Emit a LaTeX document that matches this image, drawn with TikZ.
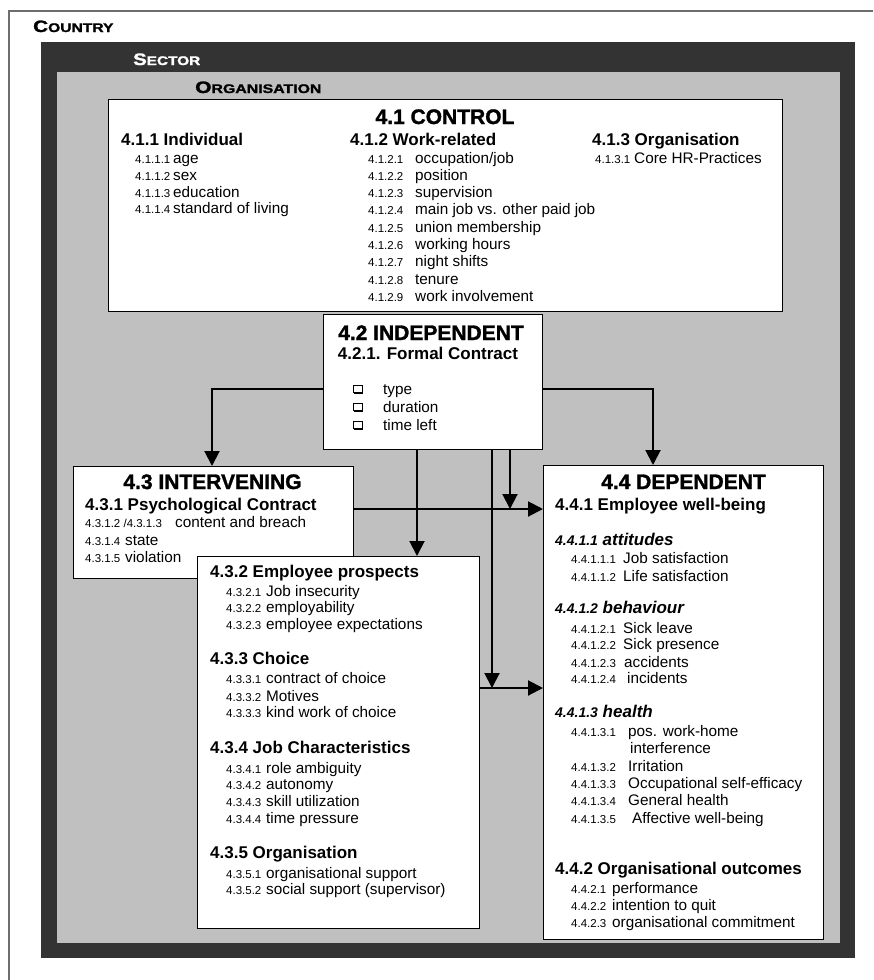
\documentclass[tikz,border=0pt]{standalone}
\usepackage{fontspec}
\setmainfont{Liberation Sans}
\newfontfamily\heavyfont{Liberation Sans}[UprightFont={* Bold},FakeBold=1.4]
\usepackage{graphicx}
\usetikzlibrary{arrows.meta,shadows}
\definecolor{darkfill}{HTML}{333333}
\definecolor{grayfill}{HTML}{C0C0C0}
\definecolor{frameline}{HTML}{6E6E6E}
\newcommand\fsz[2]{\fontsize{#1}{#2}\selectfont}
\begin{document}
\begin{tikzpicture}[x=1pt,y=-1pt,
  box/.style={draw=black,line width=1.1pt,fill=white,inner sep=0pt,anchor=north west},
  area/.style={inner sep=0pt,anchor=north west,draw=none},
  ttl/.style={font=\fsz{21}{24}\heavyfont,inner sep=0pt,anchor=base},
  hd/.style={font=\fsz{17}{20}\bfseries,inner sep=0pt,anchor=base west},
  sb/.style={font=\fsz{17}{20}\bfseries\itshape,inner sep=0pt,anchor=base west},
  itm/.style={font=\fsz{15.3}{17},inner sep=0pt,anchor=base west},
  nm/.style={font=\fsz{11.5}{13},inner sep=0pt,anchor=base west},
  lvl/.style={inner sep=0pt,anchor=base west},
  arr/.style={line width=2pt,-{Triangle[width=15pt,length=15pt]}},
  chk/.style={draw=black,line width=0.9pt,fill=white,minimum width=9pt,minimum height=7pt,inner sep=0pt,
    drop shadow={shadow xshift=1.2pt,shadow yshift=-1.2pt,opacity=1,fill=black}}
]
\useasboundingbox (0,0) rectangle (873,980);
\fill[white] (0,0) rectangle (873,980);
% country frame
\draw[frameline,line width=1.5pt] (9,980) -- (9,11) -- (873,11);
\node[lvl] (country) at (33,32) {\scalebox{1.25}[1]{\fsz{16.5}{18}\heavyfont C\fsz{12.5}{14}\heavyfont OUNTRY}};
% sector
\node[area,fill=darkfill,minimum width=814pt,minimum height=916pt] (sector) at (41,42) {};
\node[lvl,text=white] (sectorlbl) at (133,65) {\scalebox{1.23}[1]{\fsz{16.5}{18}\heavyfont S\fsz{12.5}{14}\heavyfont ECTOR}};
% organisation
\node[area,fill=grayfill,minimum width=783pt,minimum height=871pt] (org) at (57,72) {};
\node[lvl] (orglbl) at (195,93) {\scalebox{1.27}[1]{\fsz{16.5}{18}\heavyfont O\fsz{12.5}{14}\heavyfont RGANISATION}};

% boxes
\node[box,minimum width=674pt,minimum height=212pt] (ctrl) at (108,99) {};
\node[box,minimum width=219pt,minimum height=135pt] (indep) at (323,314) {};
\node[box,minimum width=280pt,minimum height=112pt] (interv) at (73,466) {};
\node[box,minimum width=282pt,minimum height=372pt] (prosp) at (197,556) {};
\node[box,minimum width=280pt,minimum height=474pt] (dep) at (543,465) {};

% connectors
\coordinate (ay) at (0,389);
\coordinate (xL) at (212,0);
\coordinate (xR) at (653,0);
\coordinate (xa) at (417,0);
\coordinate (xb) at (492,0);
\coordinate (xc) at (510,0);
\coordinate (ya) at (0,509);
\coordinate (yb) at (0,688);
\draw[arr] (indep.west |- ay) -| (interv.north -| xL);
\draw[arr] (indep.east |- ay) -| (dep.north -| xR);
\draw[arr] (indep.south -| xa) -- (prosp.north -| xa);
\draw[arr] (indep.south -| xc) -- (xc |- ya);
\draw[arr] (interv.east |- ya) -- (dep.west |- ya);
\draw[arr] (indep.south -| xb) -- (xb |- yb);
\draw[arr] (prosp.east |- yb) -- (dep.west |- yb);

% 4.1 control
\node[ttl] (t41) at (445,124) {4.1 CONTROL};
\node[hd] (h411) at (121,145) {4.1.1 Individual};
\node[hd] (h412) at (350,145) {4.1.2 Work-related};
\node[hd] (h413) at (592,145) {4.1.3 Organisation};
\foreach \y/\n/\t [count=\i] in {163/4.1.1.1/age,180/4.1.1.2/sex,197/4.1.1.3/education,213/4.1.1.4/{standard of living}}{
  \node[nm] (n411-\i) at (135,\y) {\n};
  \node[itm] (i411-\i) at (173,\y) {\t};
}
\foreach \n/\t [count=\i] in {4.1.2.1/{occupation/job},4.1.2.2/position,4.1.2.3/supervision,4.1.2.4/{main job vs. other paid job},4.1.2.5/{union membership},4.1.2.6/{working hours},4.1.2.7/{night shifts},4.1.2.8/tenure,4.1.2.9/{work involvement}}{
  \node[nm] (n412-\i) at (368,{145.7+17.3*\i}) {\n};
  \node[itm] (i412-\i) at (415,{145.7+17.3*\i}) {\t};
}
\node[nm] (n413-1) at (595,163) {4.1.3.1};
\node[itm] (i413-1) at (634,163) {Core HR-Practices};

% 4.2 independent
\node[ttl] (t42) at (431,340) {4.2 INDEPENDENT};
\node[hd,anchor=base] (h421) at (428,359) {4.2.1. Formal Contract};
\foreach \y/\t [count=\i] in {394/type,412/duration,430/{time left}}{
  \node[chk] (k\i) at (357.5,\y-5) {};
  \node[itm] (c\i) at (383,\y) {\t};
}

% 4.3 intervening
\node[ttl] (t43) at (212.5,489) {4.3 INTERVENING};
\node[hd] (h431) at (85,510) {4.3.1 Psychological Contract};
\node[nm] (n431-1) at (85,527) {4.3.1.2 /4.3.1.3};
\node[itm] (i431-1) at (175,527) {content and breach};
\node[nm] (n431-2) at (85,545) {4.3.1.4};
\node[itm] (i431-2) at (125,545) {state};
\node[nm] (n431-3) at (85,562) {4.3.1.5};
\node[itm] (i431-3) at (125,562) {violation};

% prospects box
\node[hd] (h432) at (210,577.5) {4.3.2 Employee prospects};
\node[hd] (h433) at (210,664) {4.3.3 Choice};
\node[hd] (h434) at (210,753) {4.3.4 Job Characteristics};
\node[hd] (h435) at (210,858.5) {4.3.5 Organisation};
\foreach \y/\n/\t [count=\i] in {596/4.3.2.1/{Job insecurity},612/4.3.2.2/employability,629/4.3.2.3/{employee expectations},
  683/4.3.3.1/{contract of choice},701/4.3.3.2/Motives,717/4.3.3.3/{kind work of choice},
  773/4.3.4.1/{role ambiguity},789/4.3.4.2/autonomy,806/4.3.4.3/{skill utilization},823/4.3.4.4/{time pressure},
  878/4.3.5.1/{organisational support},894/4.3.5.2/{social support (supervisor)}}{
  \node[nm] (n43-\i) at (226,\y) {\n};
  \node[itm] (i43-\i) at (266,\y) {\t};
}

% 4.4 dependent
\node[ttl] (t44) at (683.5,489) {4.4 DEPENDENT};
\node[hd] (h441) at (555,510) {4.4.1 Employee well-being};
\node[sb] (s4411) at (555,545) {{\fsz{14}{16}4.4.1.1} attitudes};
\node[sb] (s4412) at (555,613) {{\fsz{14}{16}4.4.1.2} behaviour};
\node[sb] (s4413) at (555,717) {{\fsz{14}{16}4.4.1.3} health};
\node[hd] (h442) at (555,874) {4.4.2 Organisational outcomes};
\foreach \y/\n/\t/\x [count=\i] in {563/4.4.1.1.1/{Job satisfaction}/623,581/4.4.1.1.2/{Life satisfaction}/623,
  633/4.4.1.2.1/{Sick leave}/623,649/4.4.1.2.2/{Sick presence}/623,667/4.4.1.2.3/accidents/624,683/4.4.1.2.4/incidents/627,
  736/4.4.1.3.1/{pos. work-home}/628,771/4.4.1.3.2/Irritation/628,788/4.4.1.3.3/{Occupational self-efficacy}/628,
  805/4.4.1.3.4/{General health}/628,823/4.4.1.3.5/{Affective well-being}/632,
  893/4.4.2.1/performance/612,910/4.4.2.2/{intention to quit}/612,927/4.4.2.3/{organisational commitment}/612}{
  \node[nm] (n44-\i) at (571,\y) {\n};
  \node[itm] (i44-\i) at (\x,\y) {\t};
}
\node[itm] (i44-int) at (630,753) {interference};
\end{tikzpicture}
\end{document}
